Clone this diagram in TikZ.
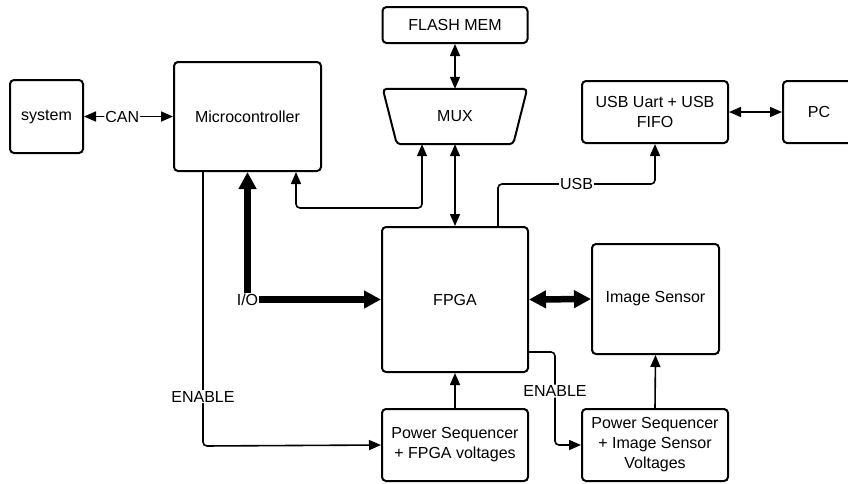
\documentclass[tikz,border=0pt]{standalone}
\usepackage{fontspec}
\setmainfont{Liberation Sans}
\usetikzlibrary{arrows.meta,calc}
\begin{document}
\begin{tikzpicture}[x=1pt,y=-1pt,
  font=\fontsize{16}{20}\selectfont,
  box/.style={draw, line width=2pt, rounded corners=4pt, align=center, inner sep=0pt},
  conn/.style={line width=1.6pt, rounded corners=4pt},
  thinarr/.style={conn, -{Triangle[length=12pt,width=10pt]}},
  thindbl/.style={conn, {Triangle[length=12pt,width=10pt]}-{Triangle[length=12pt,width=10pt]}},
  thickdbl/.style={line width=6.5pt, {Triangle[length=17pt,width=17pt]}-{Triangle[length=17pt,width=17pt]}},
  lbl/.style={fill=white, inner sep=1pt}]
\useasboundingbox (0,0) rectangle (848,483);
\fill[white] (0,0) rectangle (848,483);

% boxes
\node[box, minimum width=73pt, minimum height=73pt] (sys) at (46.5,116.5) {system};
\node[box, minimum width=147pt, minimum height=109pt] (mcu) at (247.5,116.5) {Microcontroller};
\node[box, minimum width=145pt, minimum height=36pt] (flash) at (455,25) {FLASH MEM};
\node[minimum width=116pt, minimum height=55pt, inner sep=0pt] (mux) at (455,116.5) {MUX};
\draw[line width=2pt, rounded corners=4pt]
  ([xshift=-14pt]mux.north west) -- ([xshift=14pt]mux.north east) -- (mux.south east) -- (mux.south west) -- cycle;
\node[box, minimum width=146pt, minimum height=62pt] (usbu) at (655,112) {USB Uart + USB\\FIFO};
\node[box, minimum width=72pt, minimum height=62pt] (pc) at (819,112) {PC};
\node[box, minimum width=146pt, minimum height=145pt] (fpga) at (455,299.5) {FPGA};
\node[box, minimum width=127pt, minimum height=110pt] (img) at (655.5,299) {Image Sensor};
\node[box, minimum width=146pt, minimum height=72pt] (psf) at (455,445) {Power Sequencer\\+ FPGA voltages};
\node[box, minimum width=146pt, minimum height=72pt] (psi) at (655,445) {Power Sequencer\\+ Image Sensor\\Voltages};

% connectors
\draw[thindbl] (sys.east) -- node[lbl, pos=0.43] {CAN} (mcu.west);
\draw[thindbl] (flash.south) -- (mux.north);
\draw[thindbl] (mux.south) -- (fpga.north);
\draw[thindbl] ([xshift=48.5pt]mcu.south) -- ++(0,36) -| ([xshift=-33pt]mux.south);
\draw[thinarr] ([xshift=43pt]fpga.north) -- ++(0,-42) -- node[lbl] {USB} ++(157,0) -- (usbu.south);
\draw[thindbl] (usbu.east) -- (pc.west);
\draw[thickdbl] (mcu.south) |- node[lbl, inner sep=0.5pt] {I/O} (fpga.west);
\draw[thickdbl] (fpga.east) -- (img.west);
\draw[thinarr] (psf.north) -- (fpga.south);
\draw[thinarr] (psi.north) -- (img.south);
\draw[thinarr] ([xshift=-44.5pt]mcu.south) -- node[lbl, pos=0.82] {ENABLE} ++(0,274) -- (psf.west);
\draw[thinarr] ([yshift=-52.5pt]fpga.east) -- ++(26,0) -- node[lbl, pos=0.42] {ENABLE} ++(0,93) -- (psi.west);
\end{tikzpicture}
\end{document}
